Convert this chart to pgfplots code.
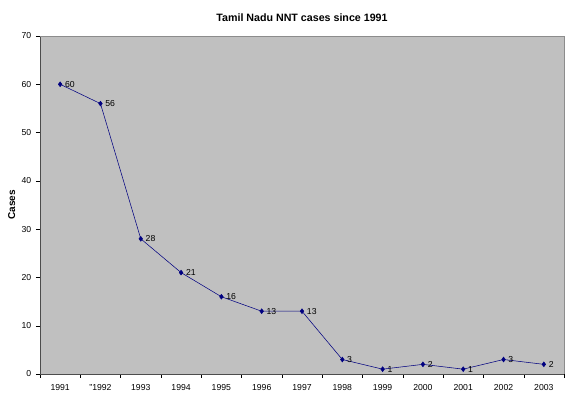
\documentclass[border=0pt]{standalone}
\usepackage{pgfplots}
\pgfplotsset{compat=1.18}
\usepackage{fontspec}
\setmainfont{Liberation Sans}
\usetikzlibrary{calc}
\definecolor{plotgray}{RGB}{192,192,192}
\definecolor{navyline}{RGB}{0,0,128}
\begin{document}
\begin{tikzpicture}
\begin{axis}[
  name=ax,
  scale only axis,
  width=393pt, height=253.5pt,
  xmin=-0.5, xmax=12.5,
  ymin=0, ymax=70,
  ytick={0,10,...,70},
  xtick={0,...,12},
  xticklabels={1991,''1992,1993,1994,1995,1996,1997,1998,1999,2000,2001,2002,2003},
  minor xtick={-0.5,0.5,...,12.5},
  major x tick style={draw=none},
  minor x tick style={black},
  minor tick length=3pt,
  major tick length=3pt,
  tick align=outside,
  y tick style={black},
  axis background/.style={fill=plotgray},
  axis x line*=bottom,
  axis y line*=left,
  axis line style={black!70},
  tick label style={font=\fontsize{6.5}{7}\selectfont},
  /pgf/number format/assume math mode=true,
  ylabel={\bfseries Cases},
  ylabel style={font=\fontsize{7.5}{8}\selectfont, at={(-15pt,0.5)}, anchor=south},
  title={\bfseries Tamil Nadu NNT cases since 1991},
  title style={font=\fontsize{8}{9.5}\selectfont, at={(0.5,1)}, anchor=south, yshift=1.5pt},
  xticklabel style={yshift=-1pt},
  clip=false,
]
\draw[black!45] (rel axis cs:0,1) -- (rel axis cs:1,1) -- (rel axis cs:1,0);
\addplot[navyline, mark=diamond*, mark size=1.8pt, mark options={fill=navyline},
  nodes near coords, point meta=explicit symbolic,
  every node near coord/.style={anchor=west, font=\fontsize{6.5}{7}\selectfont, black, xshift=2pt, inner sep=1.5pt}]
  coordinates {
  (0,60) [60]
  (1,56) [56]
  (2,28) [28]
  (3,21) [21]
  (4,16) [16]
  (5,13) [13]
  (6,13) [13]
  (7,3) [3]
  (8,1) [1]
  (9,2) [2]
  (10,1) [1]
  (11,3) [3]
  (12,2) [2]
  };
\end{axis}
\pgfresetboundingbox
\path[use as bounding box] ($(ax.south west)+(-30pt,-15.75pt)$) rectangle ($(ax.north east)+(9.75pt,27pt)$);
\end{tikzpicture}
\end{document}
